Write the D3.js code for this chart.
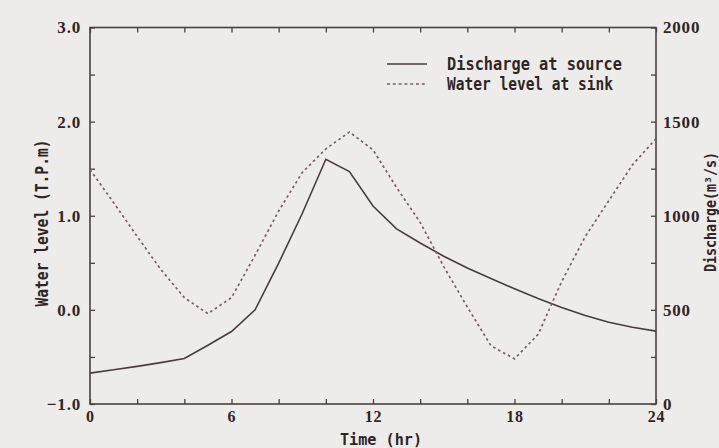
<!DOCTYPE html>
<html><head><meta charset="utf-8">
<script src="https://cdn.jsdelivr.net/npm/d3@7"></script>
<style>
body{margin:0;background:#eeeceb;}
svg{display:block;}
</style>
</head><body>
<svg id="chart" width="719" height="448"></svg>
<script>
// ---- data ----
const hours = [0,1,2,3,4,5,6,7,8,9,10,11,12,13,14,15,16,17,18,19,20,21,22,23,24];
const discharge = [164,182,200,220,242,312,385,500,748,1012,1300,1235,1052,930,855,785,722,667,612,560,512,470,434,408,387];
const waterLevel = [1.49,1.14,0.78,0.43,0.13,-0.04,0.13,0.58,1.05,1.46,1.71,1.89,1.70,1.30,0.93,0.46,0.03,-0.38,-0.52,-0.26,0.30,0.78,1.16,1.54,1.82];
const xTickValues = [0,2,4,6,8,10,12,14,16,18,20,22,24];
const xLabelValues = [0,6,12,18,24];
const leftTickValues = [-1,-0.5,0,0.5,1,1.5,2,2.5,3];
const leftLabelValues = [-1,0,1,2,3];
const rightTickValues = [0,250,500,750,1000,1250,1500,1750,2000];
const rightLabelValues = [0,500,1000,1500,2000];
const seriesNames = ["Discharge at source","Water level at sink"];
const xTitle = "Time (hr)";
const leftTitle = "Water level (T.P.m)";
const rightTitle = "Discharge(m\u00B3/s)";

// ---- layout ----
const L = 90, R = 656, T = 27.5, B = 404;
const ink = "#2e2626", axisCol = "#4a4040", solidCol = "#4a3c3d", dashCol = "#7e5c64";
const svg = d3.select("#chart");
svg.append("rect").attr("width",719).attr("height",448).attr("fill","#eeeceb");

const x = d3.scaleLinear().domain([0,24]).range([L,R]);
const yL = d3.scaleLinear().domain([-1,3]).range([B,T]);
const yR = d3.scaleLinear().domain([0,2000]).range([B,T]);

const serif = "'Liberation Serif','Times New Roman',serif";
const mono = "'DejaVu Sans Mono','Liberation Mono',monospace";

function styleAxis(size){
  return g => {
    g.select(".domain").remove();
    g.selectAll(".tick line").attr("stroke",axisCol).attr("stroke-width",1.3);
    g.selectAll(".tick text").attr("fill",ink).attr("font-family",serif)
      .attr("font-weight","bold").attr("font-size",size).attr("letter-spacing","0.8px");
  };
}

// bottom axis (inward ticks)
svg.append("g").attr("transform",`translate(0,${B})`)
  .call(d3.axisBottom(x).tickValues(xTickValues).tickSize(-5).tickPadding(7)
    .tickFormat(d => xLabelValues.includes(d) ? d : ""))
  .call(styleAxis(16));
// top axis ticks
svg.append("g").attr("transform",`translate(0,${T})`)
  .call(d3.axisTop(x).tickValues(xTickValues).tickSize(-5).tickFormat(""))
  .call(styleAxis(16));
// left axis
svg.append("g").attr("transform",`translate(${L},0)`)
  .call(d3.axisLeft(yL).tickValues(leftTickValues).tickSize(-5).tickPadding(9)
    .tickFormat(d => leftLabelValues.includes(d) ? d3.format(".1f")(d) : ""))
  .call(styleAxis(17));
// right axis
svg.append("g").attr("transform",`translate(${R},0)`)
  .call(d3.axisRight(yR).tickValues(rightTickValues).tickSize(-5).tickPadding(7)
    .tickFormat(d => rightLabelValues.includes(d) ? d : ""))
  .call(styleAxis(17));

// frame
svg.append("rect").attr("x",L).attr("y",T).attr("width",R-L).attr("height",B-T)
  .attr("fill","none").attr("stroke",axisCol).attr("stroke-width",1.6);

// series
const lineQ = d3.line().x((d,i)=>x(hours[i])).y(d=>yR(d));
const lineW = d3.line().x((d,i)=>x(hours[i])).y(d=>yL(d));
svg.append("path").datum(discharge).attr("d",lineQ)
  .attr("fill","none").attr("stroke",solidCol).attr("stroke-width",1.6);
svg.append("path").datum(waterLevel).attr("d",lineW)
  .attr("fill","none").attr("stroke",dashCol).attr("stroke-width",1.7)
  .attr("stroke-dasharray","2.6,3");

// legend
const leg = svg.append("g");
[[64,null],[84,"3,2.8"]].forEach(([yy,dash],i)=>{
  const ln = leg.append("line").attr("x1",387).attr("x2",427).attr("y1",yy).attr("y2",yy)
    .attr("stroke", i===0?solidCol:dashCol).attr("stroke-width",1.5);
  if(dash) ln.attr("stroke-dasharray",dash);
  leg.append("text").attr("x",447).attr("y",yy+6).text(seriesNames[i])
    .attr("font-family",mono).attr("font-weight","bold").attr("font-size",17)
    .attr("fill",ink).attr("textLength", i===0?175:166).attr("lengthAdjust","spacingAndGlyphs");
});

// axis titles
svg.append("text").attr("x",381).attr("y",445).attr("text-anchor","middle").text(xTitle)
  .attr("font-family",mono).attr("font-weight","bold").attr("font-size",16)
  .attr("fill",ink).attr("textLength",82).attr("lengthAdjust","spacingAndGlyphs");
svg.append("text").attr("transform","translate(48,223) rotate(-90)").attr("text-anchor","middle")
  .text(leftTitle).attr("font-family",mono).attr("font-weight","bold").attr("font-size",17)
  .attr("fill",ink).attr("textLength",167).attr("lengthAdjust","spacingAndGlyphs");
svg.append("text").attr("transform","translate(716,212) rotate(-90)").attr("text-anchor","middle")
  .text(rightTitle).attr("font-family",mono).attr("font-weight","bold").attr("font-size",15)
  .attr("fill",ink).attr("textLength",120).attr("lengthAdjust","spacingAndGlyphs");
</script>
</body></html>
